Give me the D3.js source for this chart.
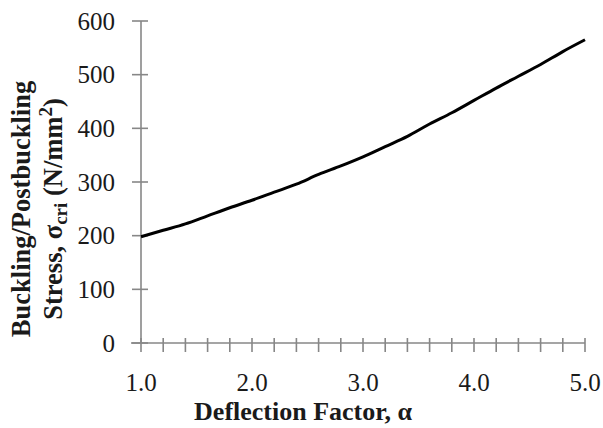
<!DOCTYPE html>
<html>
<head>
<meta charset="utf-8">
<script src="https://cdn.jsdelivr.net/npm/d3@7"></script>
</head>
<body style="margin:0">
<div id="chart"></div>
<script>
// Buckling / postbuckling stress vs deflection factor
const alpha = [1.0, 1.2, 1.4, 1.6, 1.8, 2.0, 2.2, 2.4, 2.6, 2.8, 3.0, 3.2, 3.4, 3.6, 3.8, 4.0, 4.2, 4.4, 4.6, 4.8, 5.0];
const stress = [198, 210, 222, 237, 252, 266, 281, 296, 314, 330, 347, 366, 385, 408, 429, 452, 475, 497, 519, 543, 565];
const xTickLabels = [1.0, 2.0, 3.0, 4.0, 5.0];
const xMinorTicks = d3.range(0, 21).map(i => 1 + i * 0.2);
const yTicks = [0, 100, 200, 300, 400, 500, 600];

const width = 603, height = 428;
const margin = { left: 141, right: 18, top: 21, bottom: 85 };

const svg = d3.select('#chart')
    .append('svg')
    .attr('width', width)
    .attr('height', height)
    .style('display', 'block')
    .style('font-family', "'Liberation Serif'");

const x = d3.scaleLinear().domain([1, 5]).range([margin.left, width - margin.right]);
const y = d3.scaleLinear().domain([0, 600]).range([height - margin.bottom, margin.top]);

const axisColor = '#878787';
const textColor = '#1a1a1a';

// Y axis with crossing ticks
const yAxis = svg.append('g').attr('transform', `translate(${x(1)},0)`);
yAxis.append('line')
    .attr('y1', y(0)).attr('y2', y(600))
    .attr('stroke', axisColor).attr('stroke-width', 1.6);
yAxis.selectAll('line.tick')
    .data(yTicks)
    .join('line')
    .attr('class', 'tick')
    .attr('x1', -9).attr('x2', 7)
    .attr('y1', d => y(d)).attr('y2', d => y(d))
    .attr('stroke', axisColor).attr('stroke-width', 1.6);
yAxis.selectAll('text')
    .data(yTicks)
    .join('text')
    .attr('x', -26)
    .attr('y', d => y(d))
    .attr('dy', '0.35em')
    .attr('text-anchor', 'end')
    .attr('font-size', 25)
    .attr('fill', textColor)
    .text(d => d);

// X axis with minor ticks every 0.2
const xAxis = svg.append('g').attr('transform', `translate(0,${y(0)})`);
xAxis.append('line')
    .attr('x1', x(1) - 10).attr('x2', x(5))
    .attr('stroke', axisColor).attr('stroke-width', 1.6);
xAxis.selectAll('line.tick')
    .data(xMinorTicks)
    .join('line')
    .attr('class', 'tick')
    .attr('x1', d => x(d)).attr('x2', d => x(d))
    .attr('y1', -5).attr('y2', 9)
    .attr('stroke', axisColor).attr('stroke-width', 1.6);
xAxis.selectAll('text')
    .data(xTickLabels)
    .join('text')
    .attr('x', d => x(d))
    .attr('y', 48)
    .attr('text-anchor', 'middle')
    .attr('font-size', 25)
    .attr('fill', textColor)
    .text(d => d.toFixed(1));

// Curve
const line = d3.line()
    .x((d, i) => x(alpha[i]))
    .y(d => y(d))
    .curve(d3.curveMonotoneX);

svg.append('path')
    .datum(stress)
    .attr('d', line)
    .attr('fill', 'none')
    .attr('stroke', '#000')
    .attr('stroke-width', 3);

// X title
svg.append('text')
    .attr('x', 303)
    .attr('y', 420)
    .attr('text-anchor', 'middle')
    .attr('font-size', 26)
    .attr('font-weight', 'bold')
    .attr('fill', textColor)
    .text('Deflection Factor, α');

// Y title (two lines, rotated)
const yTitle = svg.append('text')
    .attr('transform', 'translate(0,209) rotate(-90)')
    .attr('text-anchor', 'middle')
    .attr('font-size', 26.5)
    .attr('font-weight', 'bold')
    .attr('fill', textColor);
yTitle.append('tspan').attr('x', 0).attr('y', 30).text('Buckling/Postbuckling');
const l2 = yTitle.append('tspan').attr('x', 0).attr('y', 62);
l2.append('tspan').text('Stress, σ');
l2.append('tspan').attr('dy', 5).attr('font-size', 19).text('cri');
l2.append('tspan').attr('dy', -5).text(' (N/mm');
l2.append('tspan').attr('dy', -10).attr('font-size', 19).text('2');
l2.append('tspan').attr('dy', 10).text(')');
</script>
</body>
</html>
